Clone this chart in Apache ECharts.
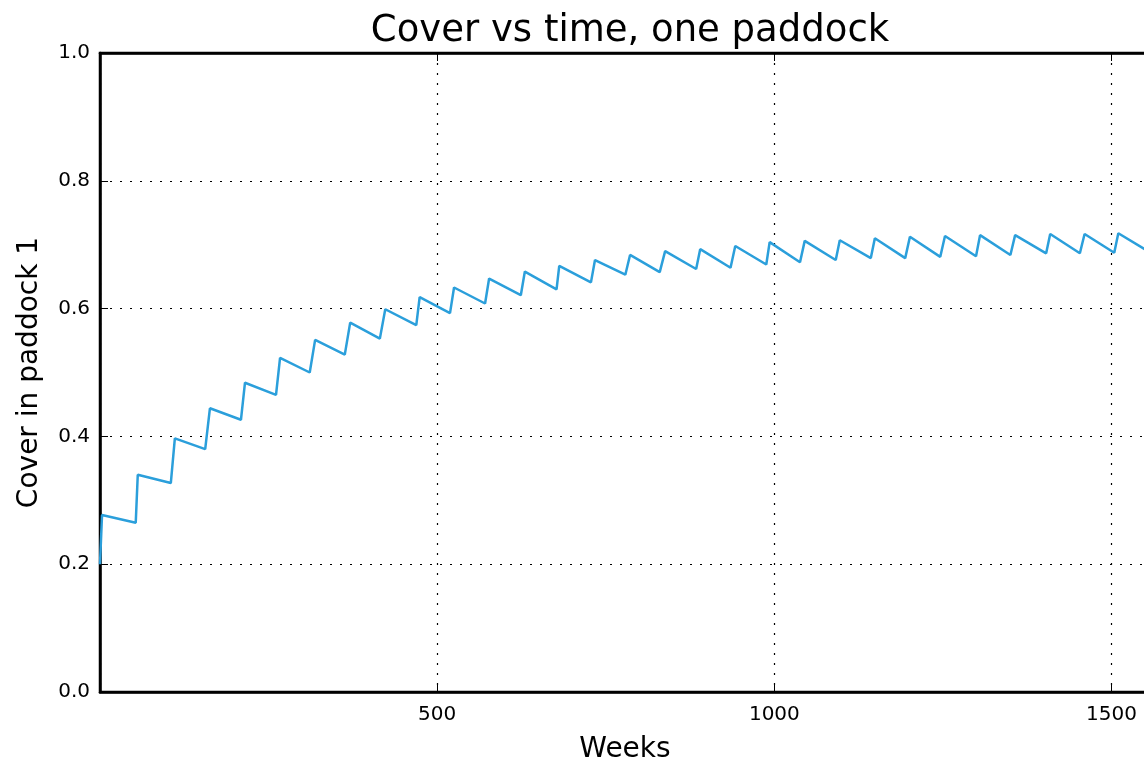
<!DOCTYPE html>
<html>
<head>
<meta charset="utf-8">
<script src="https://cdn.jsdelivr.net/npm/echarts@6/dist/echarts.min.js"></script>
<style>
html,body{margin:0;padding:0;background:#fff;}
#chart{width:1144px;height:762px;}
</style>
</head>
<body>
<div id="chart"></div>
<script>
const titleText = "Cover vs time, one paddock";
const xLabel = "Weeks";
const yLabel = "Cover in paddock 1";
const weeks = [0, 3, 53, 56, 105, 111, 156, 163, 209, 215, 261, 267, 311, 319, 363, 371, 415, 423, 469, 474, 519, 525, 571, 577, 624, 630, 677, 681, 728, 734, 779, 786, 830, 838, 884, 890, 935, 942, 988, 993, 1038, 1045, 1091, 1097, 1143, 1149, 1194, 1201, 1246, 1253, 1299, 1305, 1350, 1357, 1403, 1409, 1453, 1460, 1504, 1510, 1557];
const cover = [0.200, 0.277, 0.265, 0.340, 0.327, 0.397, 0.380, 0.444, 0.426, 0.484, 0.465, 0.523, 0.500, 0.551, 0.528, 0.578, 0.553, 0.599, 0.574, 0.618, 0.593, 0.633, 0.608, 0.647, 0.621, 0.658, 0.630, 0.667, 0.641, 0.676, 0.653, 0.684, 0.657, 0.690, 0.662, 0.693, 0.664, 0.698, 0.669, 0.704, 0.6725, 0.706, 0.676, 0.707, 0.679, 0.710, 0.679, 0.7125, 0.681, 0.7136, 0.682, 0.715, 0.684, 0.715, 0.6865, 0.7167, 0.6865, 0.7167, 0.6875, 0.718, 0.688];
const xMin = 0, xMax = 1557, xStep = 500;
const yMin = 0, yMax = 1, yStep = 0.2;

const data = weeks.map((w, i) => [w, cover[i]]);
const font = "DejaVu Sans";
const chart = echarts.init(document.getElementById('chart'), null, {renderer: 'canvas'});
const gridLine = {show: true, lineStyle: {color: '#000', width: 1.2, type: [2, 8]}};
chart.setOption({
  animation: false,
  backgroundColor: '#fff',
  title: {
    text: titleText, left: 625, top: 8, textAlign: 'center',
    textStyle: {fontFamily: font, fontSize: 37, fontWeight: 'normal', color: '#000'}
  },
  grid: {left: 100, top: 53, width: 1050, height: 639, show: true, borderColor: '#000', borderWidth: 2.5,
    backgroundColor: 'transparent', outerBoundsMode: 'none', containLabel: false},
  xAxis: [{
    type: 'value', min: xMin, max: xMax, interval: xStep, position: 'bottom',
    name: xLabel, nameLocation: 'middle', nameGap: 44,
    nameTextStyle: {fontFamily: font, fontSize: 28, color: '#000'},
    axisLine: {show: true, lineStyle: {color: '#000', width: 2.5}},
    axisTick: {show: true, inside: true, length: 8, lineStyle: {color: '#000', width: 1}},
    axisLabel: {fontFamily: font, fontSize: 20, color: '#000', margin: 13,
      formatter: v => (v === 0 || v > 1500) ? '' : String(v)},
    splitLine: gridLine
  }, {
    type: 'value', min: xMin, max: xMax, interval: xStep, position: 'top',
    axisLine: {show: true, lineStyle: {color: '#000', width: 2.5}},
    axisTick: {show: true, inside: true, length: 8, lineStyle: {color: '#000', width: 1}},
    axisLabel: {show: false}, splitLine: {show: false}
  }],
  yAxis: [{
    type: 'value', min: yMin, max: yMax, interval: yStep,
    name: yLabel, nameLocation: 'middle', nameGap: 56,
    nameTextStyle: {fontFamily: font, fontSize: 28, color: '#000'},
    axisLine: {show: true, lineStyle: {color: '#000', width: 2.5}},
    axisTick: {show: true, inside: true, length: 8, lineStyle: {color: '#000', width: 1}},
    axisLabel: {fontFamily: font, fontSize: 20, color: '#000', margin: 10,
      formatter: v => v.toFixed(1)},
    splitLine: gridLine
  }],
  series: [{
    type: 'line', data: data, showSymbol: false, symbol: 'none',
    lineStyle: {color: '#2b9fdb', width: 2.5}, clip: true
  }]
});
</script>
</body>
</html>
